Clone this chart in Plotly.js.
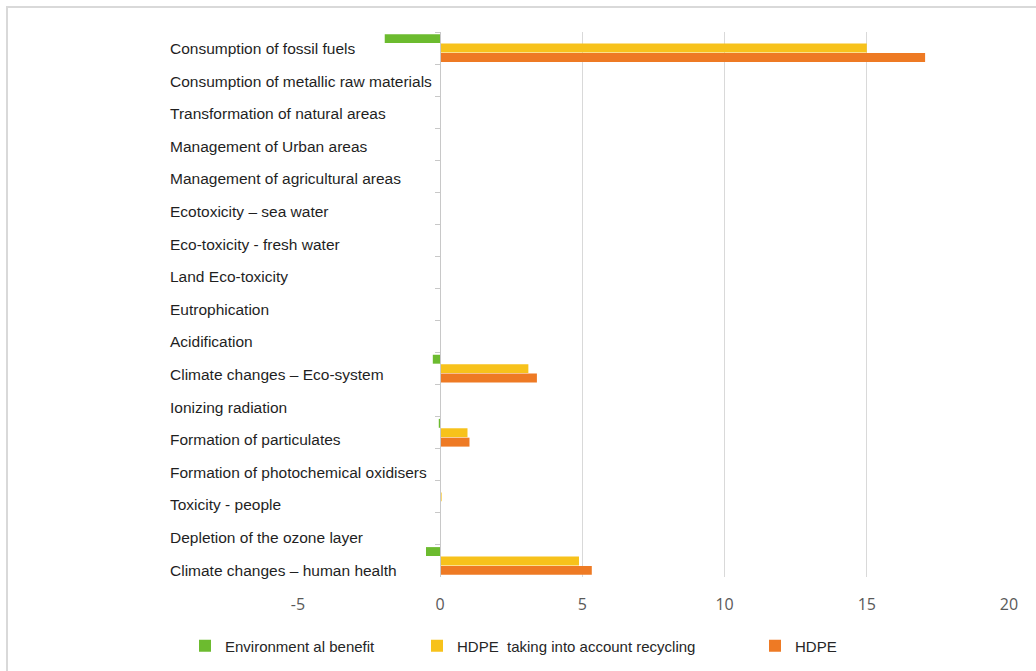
<!DOCTYPE html>
<html>
<head>
<meta charset="utf-8">
<script src="https://cdn.plot.ly/plotly-3.0.1.min.js"></script>
<style>
  html, body { margin: 0; padding: 0; background: #ffffff; }
  #chart { width: 1036px; height: 671px; }
</style>
</head>
<body>
<div id="chart"></div>
<script>
// Impact categories, listed top to bottom
const categories = [
  "Consumption of fossil fuels",
  "Consumption of metallic raw materials",
  "Transformation of natural areas",
  "Management of Urban areas",
  "Management of agricultural areas",
  "Ecotoxicity \u2013 sea water",
  "Eco-toxicity - fresh water",
  "Land Eco-toxicity",
  "Eutrophication",
  "Acidification",
  "Climate changes \u2013 Eco-system",
  "Ionizing radiation",
  "Formation of particulates",
  "Formation of photochemical oxidisers",
  "Toxicity - people",
  "Depletion of the ozone layer",
  "Climate changes \u2013 human health"
];

const seriesNames = [
  "Environment al benefit",
  "HDPE  taking into account recycling",
  "HDPE"
];

const environmentalBenefit = [-1.95, 0, 0, 0, 0, 0, 0, 0, 0, 0, -0.26, 0, -0.05, 0, 0, 0, -0.5];
const hdpeRecycling        = [15.0, 0, 0, 0, 0, 0, 0, 0, 0, 0, 3.1, 0, 0.96, 0, 0.05, 0, 4.88];
const hdpe                 = [17.05, 0, 0, 0, 0, 0, 0, 0, 0, 0, 3.4, 0, 1.03, 0, 0, 0, 5.33];

const xTickVals = [-5, 0, 5, 10, 15, 20];
const gridVals  = [5, 10, 15, 20];

// Page geometry
const W = 1036, H = 671;
const M = { l: 298, r: 27, t: 32, b: 94 };
const plotW = W - M.l - M.r;
const plotH = H - M.t - M.b;
const xRange = [-5, 20];
const px2paperX = px => (px - M.l) / plotW;
const px2paperY = py => (H - M.b - py) / plotH;

const colors = ["#6cbb2f", "#f7c21b", "#ee7a24"];
const values = [environmentalBenefit, hdpeRecycling, hdpe];
const legendIds = ["legend", "legend2", "legend3"];

const traces = values.map((v, i) => ({
  type: "bar",
  orientation: "h",
  name: seriesNames[i],
  x: v,
  y: categories,
  marker: { color: colors[i], line: { width: 0 } },
  legend: legendIds[i],
  hoverinfo: "x+name"
}));

// Category names: a left-aligned text column beside the zero axis,
// spread evenly from the first row to the last
const labelTop = 48.5, labelBottom = 570;
const labelStep = (labelBottom - labelTop) / (categories.length - 1);
const labelAnnotations = categories.map((c, i) => ({
  text: c,
  xref: "paper",
  yref: "paper",
  x: px2paperX(168),
  y: px2paperY(labelTop + i * labelStep),
  xanchor: "left",
  yanchor: "middle",
  showarrow: false,
  font: { family: "Liberation Sans, Arial, sans-serif", size: 15.5, color: "#1f1f1f" }
}));

// Three separate one-entry legends along the bottom edge
const legendFont = { family: "Liberation Sans, Arial, sans-serif", size: 15, color: "#262626" };
const legendBase = {
  orientation: "h",
  yref: "container",
  yanchor: "middle",
  y: (H - 646) / H,
  xanchor: "left",
  font: legendFont,
  bgcolor: "rgba(0,0,0,0)",
  borderwidth: 0
};

const layout = {
  width: W,
  height: H,
  margin: Object.assign({ autoexpand: false }, M),
  paper_bgcolor: "#ffffff",
  plot_bgcolor: "rgba(0,0,0,0)",
  barmode: "group",
  bargap: 0.12,
  bargroupgap: 0.05,
  showlegend: true,
  legend:  Object.assign({}, legendBase, { x: px2paperX(185) }),
  legend2: Object.assign({}, legendBase, { x: px2paperX(417) }),
  legend3: Object.assign({}, legendBase, { x: px2paperX(755) }),
  xaxis: {
    range: xRange,
    tickmode: "array",
    tickvals: xTickVals,
    ticktext: xTickVals.map(String),
    showgrid: false,
    zeroline: false,
    showline: false,
    ticks: "",
    ticklabelstandoff: 16,
    tickfont: { family: "Open Sans, Liberation Sans, sans-serif", size: 16, color: "#595959" },
    fixedrange: true
  },
  xaxis2: {
    overlaying: "x",
    range: xRange,
    tickmode: "array",
    tickvals: gridVals,
    showgrid: true,
    gridcolor: "#d9d9d9",
    gridwidth: 1,
    zeroline: false,
    showline: false,
    showticklabels: false,
    ticks: ""
  },
  yaxis: {
    type: "category",
    autorange: "reversed",
    anchor: "free",
    position: (0 - xRange[0]) / (xRange[1] - xRange[0]),
    showline: true,
    linecolor: "#c8c8c8",
    linewidth: 1,
    ticks: "outside",
    ticklen: 5,
    tickcolor: "#c8c8c8",
    tickson: "boundaries",
    showticklabels: false,
    showgrid: false,
    zeroline: false,
    fixedrange: true
  },
  annotations: labelAnnotations,
  shapes: [{
    type: "rect",
    xref: "paper", yref: "paper",
    x0: px2paperX(7), x1: px2paperX(W + 10),
    y0: px2paperY(H + 10), y1: px2paperY(7),
    line: { color: "#d9d9d9", width: 2 },
    fillcolor: "rgba(0,0,0,0)",
    layer: "below"
  }]
};

// An empty trace on xaxis2 keeps the grid axis alive
const gridHolder = {
  type: "scatter", mode: "markers", x: [], y: [],
  xaxis: "x2", yaxis: "y", showlegend: false, hoverinfo: "skip"
};

Plotly.newPlot("chart", traces.concat([gridHolder]), layout, { displayModeBar: false, staticPlot: true });
</script>
</body>
</html>
